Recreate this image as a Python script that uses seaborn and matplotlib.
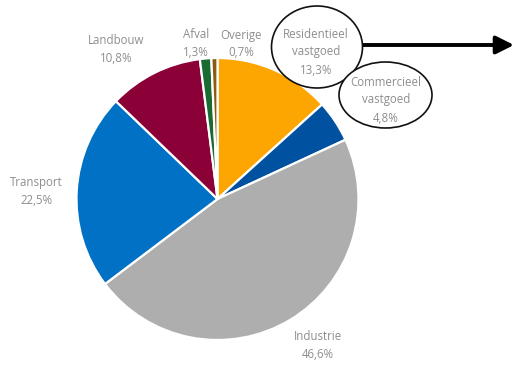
import matplotlib
matplotlib.use("Agg")
import matplotlib.pyplot as plt
from matplotlib.patches import Ellipse
import seaborn as sns

# Emission shares by sector (percent), clockwise from the top
sectors = ["Residentieel\nvastgoed", "Commercieel\nvastgoed", "Industrie",
           "Transport", "Landbouw", "Afval", "Overige"]
shares = [13.3, 4.8, 46.6, 22.5, 10.8, 1.3, 0.7]
colors = ["#FDA500", "#0052A0", "#AEAEAE", "#0071C5", "#8A0037", "#1A6B31", "#8C5A13"]

sns.set_theme(style="white")
plt.rcParams["font.family"] = ["Open Sans", "DejaVu Sans"]

W, H, DPI = 515, 367, 100
fig = plt.figure(figsize=(W / DPI, H / DPI), dpi=DPI)
ax = fig.add_axes([0, 0, 1, 1])

# pixel frame -> data frame (pie centre at 0,0 with radius 1)
cx, cy, r = 217.5, 199.0, 141.0
def px(x, y):
    return (x - cx) / r, (cy - y) / r

ax.pie(shares, colors=colors, startangle=90, counterclock=False, radius=1,
       wedgeprops=dict(edgecolor="white", linewidth=1.6))

ax.set_xlim(px(0, 0)[0], px(W, 0)[0])
ax.set_ylim(px(0, H)[1], px(0, 0)[1])
ax.set_aspect("equal")
ax.axis("off")

def pct(v):
    return f"{v:.1f}".replace(".", ",") + "%"

text_kw = dict(ha="center", va="center", color="#8e8e8e", fontsize=8.3,
               linespacing=1.5)

# label anchor points (pixel coordinates of each label's centre)
label_xy = {
    "Residentieel\nvastgoed": (316, 52),
    "Commercieel\nvastgoed": (386, 100),
    "Industrie": (318, 345),
    "Transport": (36, 192),
    "Landbouw": (116, 49),
    "Afval": (196, 44),
    "Overige": (241, 44),
}

# ellipses around the real-estate labels
ell_res = Ellipse(px(317, 47), 91 / r, 82 / r, facecolor="white",
                  edgecolor="#111111", linewidth=1.2, zorder=3)
ell_com = Ellipse(px(385.5, 95), 93 / r, 66 / r, facecolor="white",
                  edgecolor="#111111", linewidth=1.2, zorder=4)
ax.add_patch(ell_res)
ax.add_patch(ell_com)

for name, v in zip(sectors, shares):
    x, y = label_xy[name]
    ax.text(*px(x, y), f"{name}\n{pct(v)}", zorder=5, **text_kw)

# arrow pointing right from the residential label
ax.annotate("", xy=px(514, 45), xytext=px(362, 45),
            arrowprops=dict(arrowstyle="-|>,head_length=0.9,head_width=0.45",
                            color="black", lw=2.8, shrinkA=0, shrinkB=0),
            zorder=2)

fig.savefig("out.png", dpi=DPI)
